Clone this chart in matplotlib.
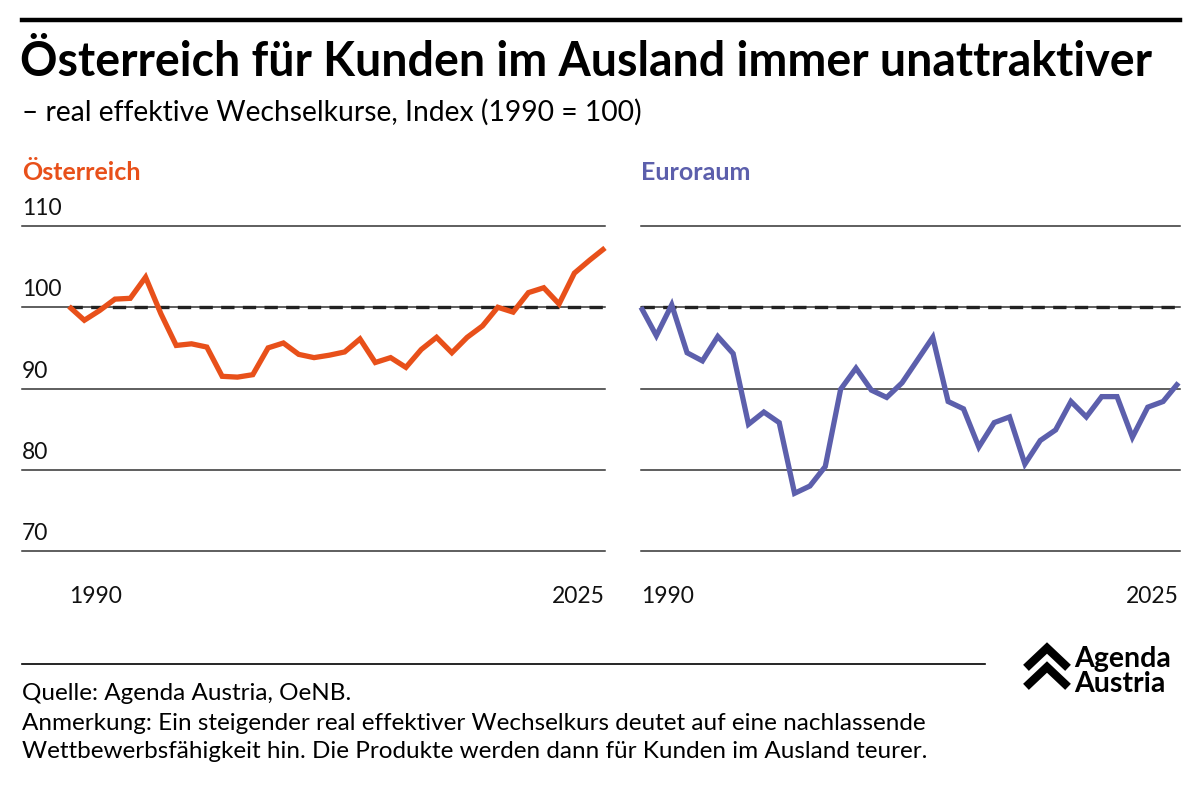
import numpy as np
import matplotlib.pyplot as plt
from matplotlib.lines import Line2D

plt.rcParams['font.family'] = ['Lato', 'DejaVu Sans']

# data
years = list(range(1990, 2026))
austria = [100.1, 98.4, 99.6, 101.0, 101.1, 103.7, 99.2, 95.3, 95.5, 95.1,
           91.5, 91.4, 91.7, 95.0, 95.6, 94.2, 93.8, 94.1, 94.5, 96.1,
           93.2, 93.8, 92.6, 94.8, 96.3, 94.4, 96.3, 97.7, 100.0, 99.4,
           101.8, 102.4, 100.4, 104.2, 105.8, 107.3]
euro = [100.0, 96.5, 100.3, 94.4, 93.4, 96.4, 94.3, 85.6, 87.1, 85.8,
        77.1, 78.0, 80.4, 89.9, 92.5, 89.8, 88.9, 90.7, 93.5, 96.3,
        88.4, 87.5, 82.8, 85.8, 86.5, 80.7, 83.6, 84.9, 88.4, 86.5,
        89.0, 89.0, 84.0, 87.7, 88.4, 90.7]
yticks = [70, 80, 90, 100, 110]
xlabels = ['1990', '2025']

ORANGE = '#e8501a'
BLUE = '#5c5fac'
W, H = 1200, 786

fig = plt.figure(figsize=(12, 7.86), dpi=100)


def fx(px):
    return px / W


def fy(py):
    return 1 - py / H


def panel(x0, x1, data, color, name, xlim, show_ylabels):
    ax = fig.add_axes([fx(x0), fy(551), fx(x1 - x0), fy(226) - fy(551)])
    ax.set_xlim(*xlim)
    ax.set_ylim(70, 110)
    ax.axis('off')
    for v in yticks:
        ax.axhline(v, color='#333333', lw=1.1, clip_on=False, zorder=1)
        if show_ylabels:
            ax.annotate(str(v), (xlim[0], v), xytext=(0, 5), textcoords='offset points',
                        ha='left', va='bottom', fontsize=16.5, color='#111111')
    ax.plot([years[0], years[-1]], [100, 100], color='#222222', lw=2.4,
            dashes=(4, 2.5), zorder=2, clip_on=False)
    ax.plot(years, data, color=color, lw=3.8, zorder=3, clip_on=False,
            solid_joinstyle='miter', solid_capstyle='butt')
    ax.annotate(xlabels[0], (1990, 70), xytext=(0, -25), textcoords='offset points',
                ha='left', va='top', fontsize=16.5, color='#111111')
    ax.annotate(xlabels[1], (2025, 70), xytext=(0, -25), textcoords='offset points',
                ha='right', va='top', fontsize=16.5, color='#111111')
    fig.text(fx(x0), fy(172), name, fontsize=18, fontweight='bold', color=color,
             ha='left', va='center')
    return ax


panel(22, 605, austria, ORANGE, 'Österreich', (1986.93, 2025.0), True)
panel(641, 1180, euro, BLUE, 'Euroraum', (1990.0, 2025.1), False)

# top rule, title, subtitle
fig.add_artist(Line2D([fx(22), fx(1180)], [fy(20), fy(20)], color='black', lw=3.2))
fig.text(fx(20), fy(62), 'Österreich für Kunden im Ausland immer unattraktiver',
         fontsize=33.5, fontweight='bold', ha='left', va='center', color='black')
fig.text(fx(22), fy(112), '– real effektive Wechselkurse, Index (1990 = 100)',
         fontsize=20.3, ha='left', va='center', color='black')

# footer
fig.add_artist(Line2D([fx(22), fx(985)], [fy(664), fy(664)], color='black', lw=1.2))
fig.text(fx(22), fy(694), 'Quelle: Agenda Austria, OeNB.', fontsize=17.5,
         ha='left', va='center')
fig.text(fx(22), fy(723), 'Anmerkung: Ein steigender real effektiver Wechselkurs deutet auf eine nachlassende',
         fontsize=17.5, ha='left', va='center')
fig.text(fx(22), fy(752), 'Wettbewerbsfähigkeit hin. Die Produkte werden dann für Kunden im Ausland teurer.',
         fontsize=17.5, ha='left', va='center')

# logo
for top in (648, 667):
    fig.add_artist(Line2D([fx(1029), fx(1047), fx(1065)],
                          [fy(top + 17), fy(top), fy(top + 17)],
                          color='black', lw=6, solid_joinstyle='miter'))
fig.text(fx(1074), fy(667), 'Agenda', fontsize=20.5, fontweight='bold',
         ha='left', va='baseline')
fig.text(fx(1074), fy(692), 'Austria', fontsize=20.5, fontweight='bold',
         ha='left', va='baseline')

fig.savefig('out.png', dpi=100, facecolor='white')
